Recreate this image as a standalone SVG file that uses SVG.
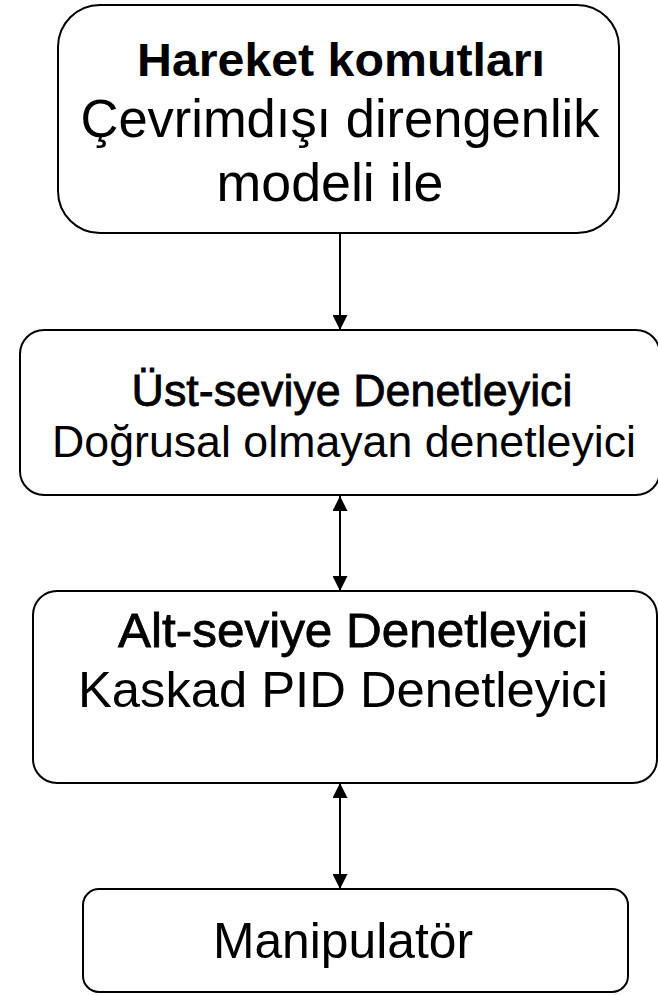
<svg xmlns="http://www.w3.org/2000/svg" width="658" height="995" viewBox="0 0 658 995">
<style>
.box{fill:#fff;stroke:#000;stroke-width:2}
.t{font-family:"Liberation Sans",Arial,sans-serif;fill:#000;text-anchor:middle}
.b{font-weight:bold}
.m{stroke:#000;stroke-width:0.8}
.c{stroke:#000;stroke-width:2;fill:none}
</style>
<defs>
<marker id="ah" viewBox="0 0 14 14" refX="14" refY="7" markerWidth="15" markerHeight="15" markerUnits="userSpaceOnUse" orient="auto-start-reverse">
<path d="M0,0 L14,7 L0,14 z" fill="#000"/>
</marker>
</defs>
<rect width="658" height="995" fill="#fff"/>
<g id="connectors">
<line class="c" x1="340" y1="234" x2="340" y2="330" marker-end="url(#ah)"/>
<line class="c" x1="340" y1="496" x2="340" y2="591" marker-start="url(#ah)" marker-end="url(#ah)"/>
<line class="c" x1="340" y1="783" x2="340" y2="889" marker-start="url(#ah)" marker-end="url(#ah)"/>
</g>
<g id="n1">
<rect class="box" x="58" y="5" width="561" height="228" rx="42"/>
<text class="t b" x="341" y="76" font-size="47" textLength="408" lengthAdjust="spacingAndGlyphs">Hareket komutları</text>
<text class="t" x="340" y="137" font-size="53" textLength="519" lengthAdjust="spacingAndGlyphs">Çevrimdışı direngenlik</text>
<text class="t" x="330" y="201" font-size="53" textLength="227" lengthAdjust="spacingAndGlyphs">modeli ile</text>
</g>
<g id="n2">
<rect class="box" x="20" y="330" width="640" height="165" rx="24"/>
<text class="t m" x="352" y="406" font-size="45" textLength="441" lengthAdjust="spacingAndGlyphs">Üst-seviye Denetleyici</text>
<text class="t" x="344" y="457" font-size="45" textLength="584" lengthAdjust="spacingAndGlyphs">Doğrusal olmayan denetleyici</text>
</g>
<g id="n3">
<rect class="box" x="33" y="591" width="624" height="192" rx="24"/>
<text class="t m" x="353" y="647" font-size="49" textLength="470" lengthAdjust="spacingAndGlyphs">Alt-seviye Denetleyici</text>
<text class="t" x="343" y="707" font-size="50" textLength="530" lengthAdjust="spacingAndGlyphs">Kaskad PID Denetleyici</text>
</g>
<g id="n4">
<rect class="box" x="83" y="889" width="545" height="103" rx="16"/>
<text class="t" x="343" y="958" font-size="50" textLength="260" lengthAdjust="spacingAndGlyphs">Manipulatör</text>
</g>
</svg>
